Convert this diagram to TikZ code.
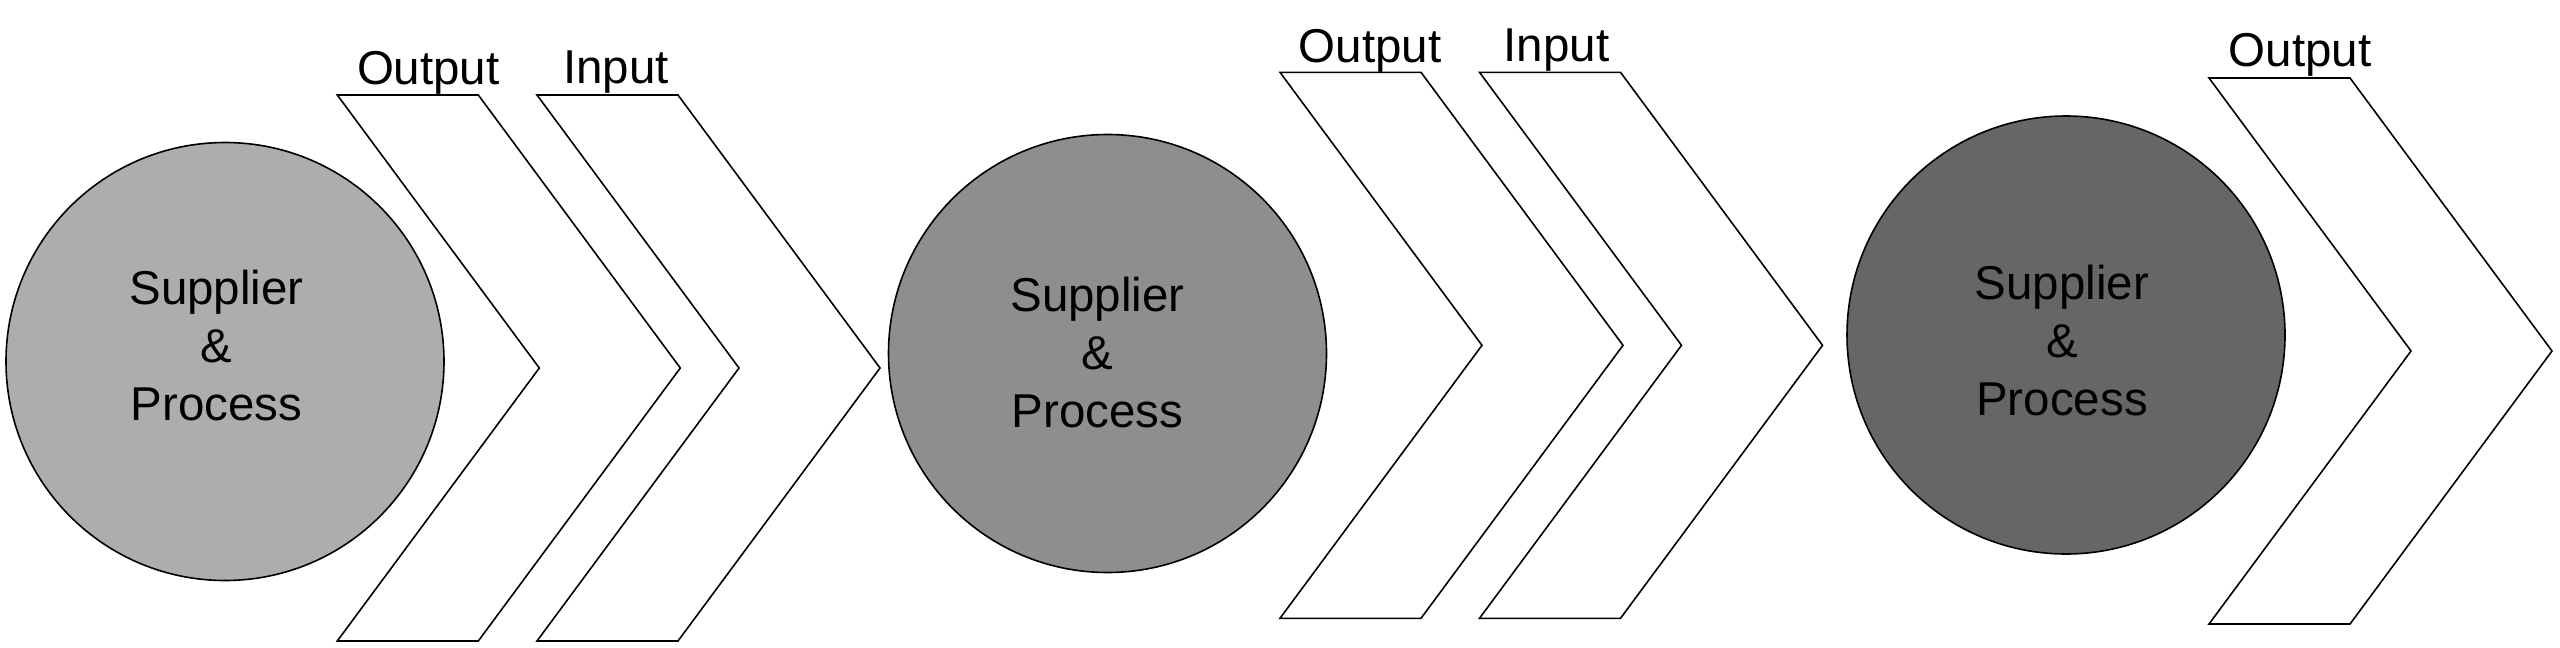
\documentclass[tikz,border=0pt]{standalone}
\usepackage{fontspec}
\setmainfont{Liberation Sans}
\definecolor{grayA}{HTML}{ADADAD}
\definecolor{grayB}{HTML}{8E8E8E}
\definecolor{grayC}{HTML}{666666}
\begin{document}
\begin{tikzpicture}[x=1pt,y=-1pt,
  line join=miter,
  outline/.style={draw=black,line width=1.6pt},
  procnode/.style={outline,circle,minimum size=438pt,inner sep=0pt},
  proctext/.style={align=center,font=\fontsize{47.5}{58}\selectfont,inner sep=0pt},
  lbl/.style={anchor=base,font=\fontsize{47.5}{58}\selectfont,inner sep=0pt},
  chevron/.pic={\draw[outline,fill=white] (0,0) -- (141,0) -- (343,273) -- (141,546) -- (0,546) -- (202,273) -- cycle;}
]
\useasboundingbox (0,0) rectangle (2560,648);
% circles
\node[procnode,fill=grayA] (p1) at (225,361.5) {};
\node[procnode,fill=grayB] (p2) at (1107.5,353.5) {};
\node[procnode,fill=grayC] (p3) at (2066,335) {};
\node[proctext] (t1) at (216.5,346) {Supplier\\\&\\Process};
\node[proctext] (t2) at (1097.5,353) {Supplier\\\&\\Process};
\node[proctext] (t3) at (2062,340.5) {Supplier\\\&\\Process};
% chevrons
\pic at (337.3,95) {chevron};
\pic at (537,95) {chevron};
\pic at (1280,72.3) {chevron};
\pic at (1479.5,72.3) {chevron};
\pic at (2209,78) {chevron};
% labels
\node[lbl] (o1) at (428.3,84) {Output};
\node[lbl] (i1) at (616,83.5) {Input};
\node[lbl] (o2) at (1370,62.3) {Output};
\node[lbl] (i2) at (1556.5,61.7) {Input};
\node[lbl] (o3) at (2300,66.7) {Output};
\end{tikzpicture}
\end{document}
